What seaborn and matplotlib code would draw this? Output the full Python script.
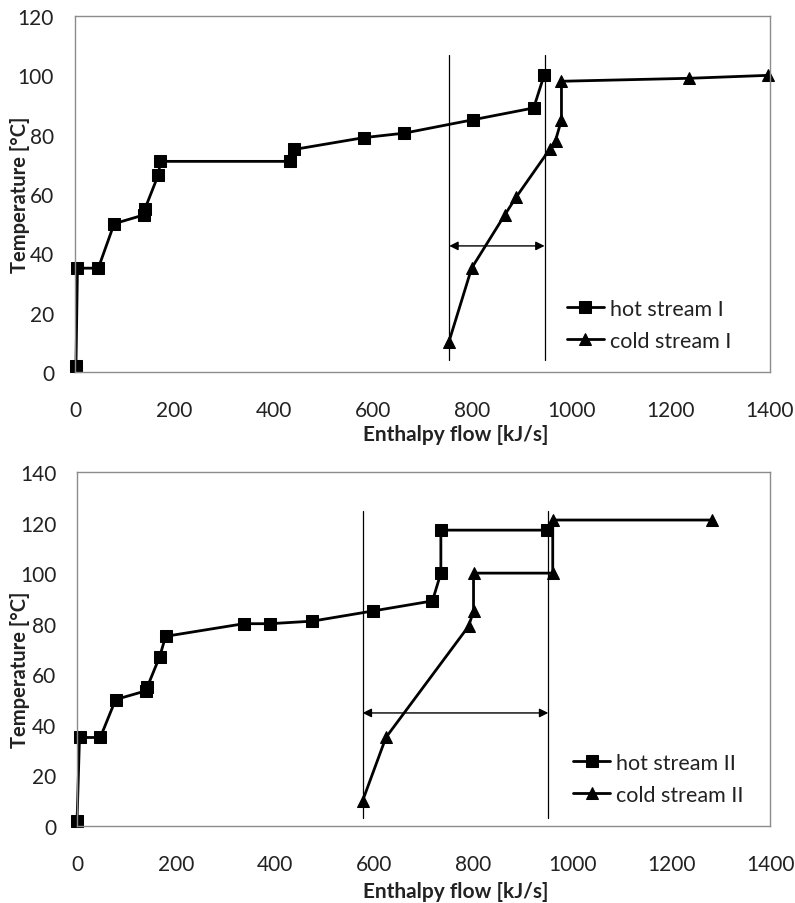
import matplotlib
matplotlib.use("Agg")
import matplotlib.pyplot as plt
import seaborn as sns
import pandas as pd

# ---- data ----
hot1_h = [2, 5, 47, 79, 140, 141, 168, 172, 434, 441, 582, 663, 801, 924, 945]
hot1_t = [2, 35, 35, 50, 53, 55, 66.5, 71, 71, 75, 79, 80.5, 85, 89, 100]
cold1_h = [753, 799, 866, 889, 956, 968, 980, 980, 1237, 1397]
cold1_t = [10, 35, 53, 59, 75, 78, 85, 98, 99, 100]
vlines1 = [754, 946]
vrange1 = [4, 107]
arrow1_t = 42.5

hot2_h = [0, 5, 47, 78, 140, 142, 167, 179, 337, 390, 475, 597, 718, 735, 735, 950]
hot2_t = [2, 35, 35, 50, 53.5, 55, 67, 75, 80, 80, 81, 85, 89, 100, 117, 117]
cold2_h = [577, 624, 791, 801, 801, 961, 961, 1283]
cold2_t = [10, 35, 79, 85, 100, 100, 121, 121]
vlines2 = [577, 952]
vrange2 = [3, 124.5]
arrow2_t = 44.7

sns.set_theme(style="white")
plt.rcParams['font.family'] = ['Lato', 'DejaVu Sans']

fig = plt.figure(figsize=(7.95, 9.04), dpi=100)
ax1 = fig.add_axes([0.0943, 0.5874, 0.8742, 0.3938])
ax2 = fig.add_axes([0.0969, 0.0852, 0.8717, 0.3916])

spine_col = '#8c8c8c'
text_col = '#222222'


def draw(ax, hot_h, hot_t, cold_h, cold_t, vl, vr, at, names, ylim, yticks,
         leg_xy, ylab_xy, xlab_xy):
    dfh = pd.DataFrame({'h': hot_h, 't': hot_t})
    dfc = pd.DataFrame({'h': cold_h, 't': cold_t})
    sns.lineplot(data=dfh, x='h', y='t', sort=False, estimator=None, ax=ax,
                 color='black', lw=2, marker='s', markersize=9,
                 markeredgecolor='black', label=names[0], clip_on=False)
    sns.lineplot(data=dfc, x='h', y='t', sort=False, estimator=None, ax=ax,
                 color='black', lw=2, marker='^', markersize=9,
                 markeredgecolor='black', label=names[1], clip_on=False)
    for x in vl:
        ax.plot([x, x], vr, color='black', lw=0.9)
    ax.annotate('', xy=(vl[1], at), xytext=(vl[0], at),
                arrowprops=dict(arrowstyle='<|-|>', color='black', lw=1,
                                shrinkA=0, shrinkB=0, mutation_scale=13))
    ax.set_xlim(0, 1400)
    ax.set_ylim(*ylim)
    ax.set_xticks(range(0, 1401, 200))
    ax.set_yticks(yticks)
    ax.tick_params(axis='both', length=0, labelsize=15, colors=text_col)
    ax.tick_params(axis='x', pad=20)
    ax.tick_params(axis='y', pad=15)
    for s in ax.spines.values():
        s.set_color(spine_col)
        s.set_linewidth(1)
    ax.set_xlabel('Enthalpy flow [kJ/s]', fontsize=15, fontweight='bold', color=text_col)
    ax.set_ylabel('Temperature [°C]', fontsize=14.5, fontweight='bold', color=text_col)
    ax.yaxis.set_label_coords(*ylab_xy)
    ax.xaxis.set_label_coords(*xlab_xy)
    leg = ax.legend(loc='upper left', bbox_to_anchor=leg_xy, frameon=False,
                    fontsize=15.5, handlelength=1.7, handletextpad=0.3,
                    labelspacing=0.55, borderaxespad=0, borderpad=0)
    for t in leg.get_texts():
        t.set_color(text_col)


draw(ax1, hot1_h, hot1_t, cold1_h, cold1_t, vlines1, vrange1, arrow1_t,
     ['hot stream I', 'cold stream I'], (0, 120), range(0, 121, 20),
     (0.708, 0.205), (-0.065, 0.5), (0.548, -0.146))
draw(ax2, hot2_h, hot2_t, cold2_h, cold2_t, vlines2, vrange2, arrow2_t,
     ['hot stream II', 'cold stream II'], (0, 140), range(0, 141, 20),
     (0.716, 0.207), (-0.068, 0.443), (0.547, -0.1545))

fig.savefig('out.png', dpi=100)
